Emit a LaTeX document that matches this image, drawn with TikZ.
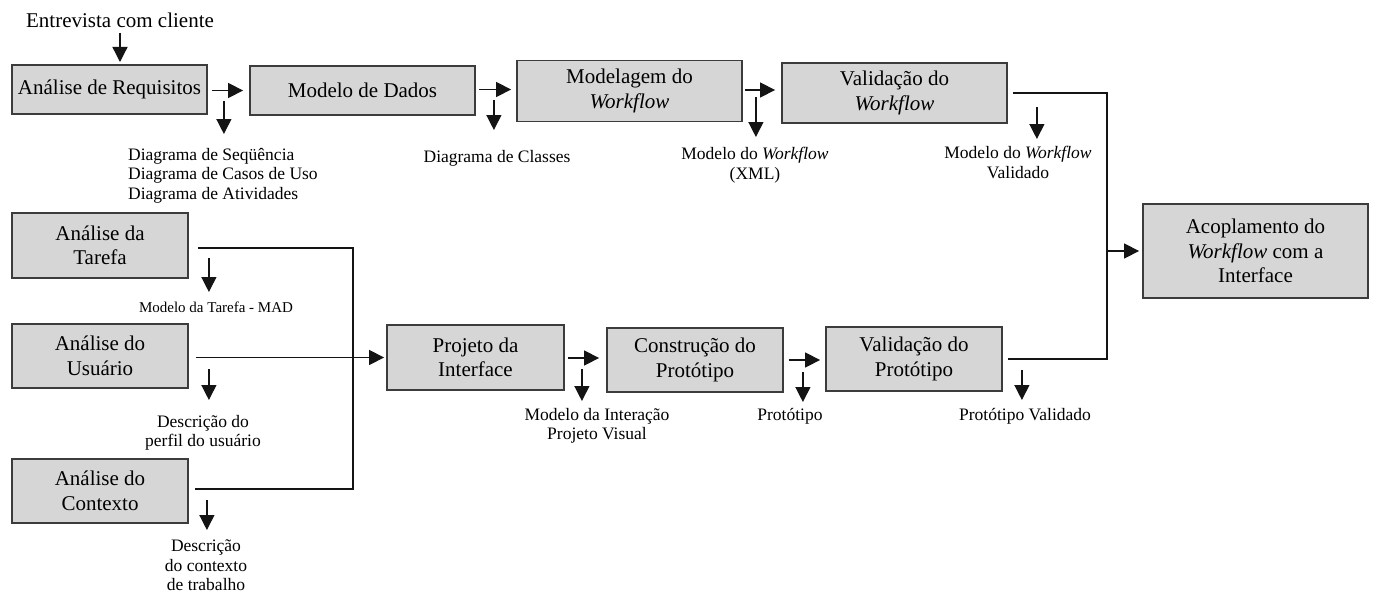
\documentclass[tikz,border=0pt]{standalone}
\usepackage{fontspec}
\setmainfont{Liberation Serif}
\usetikzlibrary{arrows.meta,calc}

\definecolor{boxfill}{RGB}{214,214,214}
\definecolor{boxline}{RGB}{60,60,60}
\definecolor{inkline}{RGB}{20,20,20}

\newcommand{\wf}{\textit{Workflow}}

\begin{document}
\begin{tikzpicture}[
  x=1pt, y=-1pt,
  stagebox/.style={draw=boxline, fill=boxfill, line width=1.8pt, inner sep=0pt,
    align=center, font=\fontsize{21}{24.5}\selectfont},
  outlabel/.style={inner sep=0pt, align=center, font=\fontsize{17.5}{19.5}\selectfont},
  smalllabel/.style={inner sep=0pt, font=\fontsize{15}{17}\selectfont},
  conn/.style={draw=inkline, line width=1.3pt},
  arr/.style={conn, -{Triangle[length=15pt,width=15pt]}}
]
\useasboundingbox[fill=white] (0,0) rectangle (1374,594);

% process stages
\node[stagebox, minimum width=195pt, minimum height=49pt] (req) at (109.5,89.5) {Análise de Requisitos};
\node[stagebox, minimum width=225pt, minimum height=49pt] (dados) at (362.5,90.5) {Modelo de Dados};
\node[stagebox, minimum width=225pt, minimum height=61pt] (modwf) at (629.5,91) {Modelagem do\\\wf};
\node[stagebox, minimum width=225pt, minimum height=60pt] (valwf) at (894.5,93) {Validação do\\\wf};
\node[stagebox, minimum width=225pt, minimum height=94pt] (acop) at (1255.5,251) {Acoplamento do\\\wf{} com a\\Interface};
\node[stagebox, minimum width=176pt, minimum height=65pt] (tarefa) at (100,245.5) {Análise da\\Tarefa};
\node[stagebox, minimum width=176pt, minimum height=64pt] (usuario) at (100,356) {Análise do\\Usuário};
\node[stagebox, minimum width=176pt, minimum height=64pt] (contexto) at (100,491) {Análise do\\Contexto};
\node[stagebox, minimum width=177pt, minimum height=65pt] (projeto) at (475.5,357.5) {Projeto da\\Interface};
\node[stagebox, minimum width=176pt, minimum height=64pt] (constr) at (695,360) {Construção do\\Protótipo};
\node[stagebox, minimum width=176pt, minimum height=64pt] (valprot) at (914,359) {Validação do\\Protótipo};

% inputs and products
\node[inner sep=0pt, anchor=base, font=\fontsize{21}{24}\selectfont] (entrevista) at (120,28) {Entrevista com cliente};
\node[outlabel, align=left, anchor=north west] (lreq) at (128,148) {Diagrama de Seqüência\\Diagrama de Casos de Uso\\Diagrama de Atividades};
\node[outlabel, anchor=base] (ldados) at (497,162) {Diagrama de Classes};
\node[outlabel, anchor=north] (lmodwf) at (755,147) {Modelo do \wf\\(XML)};
\node[outlabel, anchor=north] (lvalwf) at (1018,146) {Modelo do \wf\\Validado};
\node[smalllabel, anchor=base] (ltarefa) at (216,312) {Modelo da Tarefa - MAD};
\node[outlabel, anchor=north] (lusuario) at (203,415) {Descrição do\\perfil do usuário};
\node[outlabel, anchor=north] (lcontexto) at (206,540) {Descrição\\do contexto\\de trabalho};
\node[outlabel, anchor=north] (lprojeto) at (597,408) {Modelo da Interação\\Projeto Visual};
\node[outlabel, anchor=base] (lconstr) at (790,420) {Protótipo};
\node[outlabel, anchor=base] (lvalprot) at (1025,420) {Protótipo Validado};

% junction points of the merging lines
\coordinate (busr) at (1107,251);
\coordinate (busl) at (353,357.5);

% upper flow
\draw[arr] ($(entrevista.base)+(0,5)$) -- ++(0,29);
\draw[arr] ($(req.east)+(4,1)$) -- ($(dados.west |- req.east)+(-6,1)$);
\draw[arr] ($(dados.east)+(3,-1)$) -- ($(modwf.west |- dados.east)+(-5,-1)$);
\draw[arr] ($(modwf.east)+(2,-1)$) -- ($(valwf.west |- modwf.east)+(-6,-1)$);
\draw[conn] ($(valwf.east)+(5,0)$) -| (busr) |- ($(valprot.east)+(5,0)$);
\draw[arr] (busr) -- ($(acop.west)+(-3,0)$);

% products of the upper flow
\draw[arr] ($(req.east)+(16,11.5)$) -- ++(0,33);
\draw[arr] ($(dados.east)+(18,9.5)$) -- ++(0,30);
\draw[arr] ($(modwf.east)+(13,6)$) -- ++(0,40);
\draw[arr] ($(valwf.east)+(29,14)$) -- ++(0,32);

% lower flow
\draw[conn] ($(tarefa.east)+(9,2.5)$) -| (busl) |- ($(contexto.east)+(6,-2)$);
\draw[arr] ($(usuario.east |- projeto.west)+(7,0)$) -- ($(projeto.west)+(-2,0)$);
\draw[arr] ($(projeto.east)+(3,0.5)$) -- ($(constr.west |- projeto.east)+(-7,0.5)$);
\draw[arr] ($(constr.east)+(5,0)$) -- ($(valprot.west |- constr.east)+(-5,0)$);

% products of the lower flow
\draw[arr] ($(tarefa.east)+(20,12.5)$) -- ++(0,34);
\draw[arr] ($(usuario.east)+(20,13)$) -- ++(0,31);
\draw[arr] ($(contexto.east)+(18,9)$) -- ++(0,30);
\draw[arr] ($(projeto.east)+(17,11.5)$) -- ++(0,32);
\draw[arr] ($(constr.east)+(19,12)$) -- ++(0,30);
\draw[arr] ($(valprot.east)+(19,11)$) -- ++(0,30);
\end{tikzpicture}
\end{document}
